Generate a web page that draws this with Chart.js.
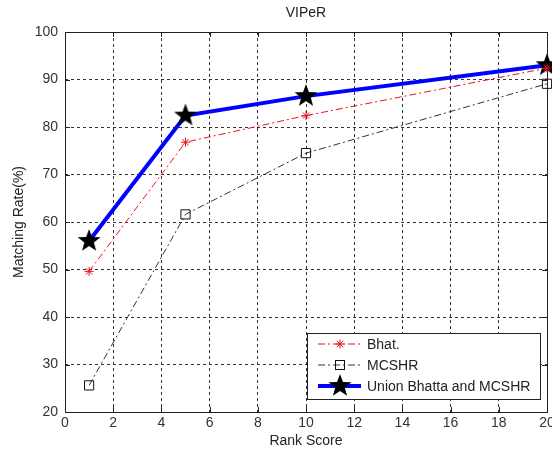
<!DOCTYPE html>
<html>
<head>
<meta charset="utf-8">
<script src="https://cdn.jsdelivr.net/npm/chart.js@4.4.1/dist/chart.umd.min.js"></script>
<style>
  html, body { margin: 0; padding: 0; background: #fff; }
  #wrap { width: 552px; height: 452px; position: relative; }
</style>
</head>
<body>
<div id="wrap"><canvas id="grafico" width="552" height="452"></canvas></div>
<script>
// ranks on the x axis
const ranks = [1, 5, 10, 20];

// matching rates (%)
const bhat = [49.6, 76.8, 82.4, 92.4];
const mcshr = [25.6, 61.6, 74.5, 89.1];
const union = [56.0, 82.4, 86.5, 93.0];

const xTicks = [0, 2, 4, 6, 8, 10, 12, 14, 16, 18, 20];
const yTicks = [20, 30, 40, 50, 60, 70, 80, 90, 100];

const FONT = "'Liberation Sans', Arial, sans-serif";
const FS = 14;

/* pentagram marker */
function estrela(r){
  const c = document.createElement("canvas");
  const s = Math.ceil(r*2+4);
  c.width = s; c.height = s;
  const g = c.getContext("2d");
  g.translate(s/2, s/2);
  g.beginPath();
  for(let i=0;i<10;i++){
    const rad = i%2===0 ? r : r*0.42;
    const a = -Math.PI/2 + i*Math.PI/5;
    const px = Math.cos(a)*rad, py = Math.sin(a)*rad;
    i===0 ? g.moveTo(px,py) : g.lineTo(px,py);
  }
  g.closePath();
  g.fillStyle = "#000";
  g.fill();
  return c;
}
const star = estrela(12);

function pontos(vals){
  return ranks.map((r,i)=>({x:r, y:vals[i]}));
}

/* =========================
   BOX, TITLE, LEGEND
========================= */
const extras = {
  id: "extras",
  beforeDatasetsDraw(chart){
    const {ctx, chartArea:a} = chart;
    ctx.save();
    ctx.strokeStyle = "#222";
    ctx.lineWidth = 1;
    ctx.setLineDash([]);
    ctx.strokeRect(a.left+0.5, a.top+0.5, a.right-a.left, a.bottom-a.top);
    // small inward ticks
    const xs = chart.scales.x, ys = chart.scales.y;
    ctx.beginPath();
    xTicks.forEach(t=>{
      const px = Math.round(xs.getPixelForValue(t))+0.5;
      ctx.moveTo(px, a.bottom); ctx.lineTo(px, a.bottom-5);
      ctx.moveTo(px, a.top); ctx.lineTo(px, a.top+5);
    });
    yTicks.forEach(t=>{
      const py = Math.round(ys.getPixelForValue(t))+0.5;
      ctx.moveTo(a.left, py); ctx.lineTo(a.left+5, py);
      ctx.moveTo(a.right, py); ctx.lineTo(a.right-5, py);
    });
    ctx.stroke();
    ctx.fillStyle = "#222";
    ctx.font = FS + "px " + FONT;
    ctx.textAlign = "center";
    ctx.textBaseline = "middle";
    ctx.fillText("VIPeR", (a.left+a.right)/2, 13);
    ctx.restore();
  },
  afterDraw(chart){
    const {ctx} = chart;
    const bx = 307, by = 333, bw = 233, bh = 66;
    ctx.save();
    ctx.fillStyle = "#fff";
    ctx.fillRect(bx, by, bw, bh);
    ctx.strokeStyle = "#222";
    ctx.lineWidth = 1;
    ctx.strokeRect(bx+0.5, by+0.5, bw, bh);
    const linhas = [
      {label:"Bhat.", color:"#e8141e", width:1, dash:[7,3,2,3], y:344, mark:"ast"},
      {label:"MCSHR", color:"#333", width:1, dash:[7,3,2,3], y:365, mark:"sq"},
      {label:"Union Bhatta and MCSHR", color:"#0000ff", width:4, dash:[], y:386, mark:"star"}
    ];
    linhas.forEach(l=>{
      ctx.beginPath();
      ctx.setLineDash(l.dash);
      ctx.strokeStyle = l.color;
      ctx.lineWidth = l.width;
      ctx.moveTo(318, l.y); ctx.lineTo(361, l.y);
      ctx.stroke();
      ctx.setLineDash([]);
      const mx = 340;
      if(l.mark==="ast"){
        ctx.lineWidth = 1;
        ctx.beginPath();
        const r = 4.5;
        for(let k=0;k<4;k++){
          const ang = k*Math.PI/4;
          ctx.moveTo(mx-Math.cos(ang)*r, l.y-Math.sin(ang)*r);
          ctx.lineTo(mx+Math.cos(ang)*r, l.y+Math.sin(ang)*r);
        }
        ctx.stroke();
      } else if(l.mark==="sq"){
        ctx.lineWidth = 1;
        ctx.strokeStyle = "#111";
        ctx.strokeRect(mx-4.5, l.y-4.5, 9, 9);
      } else {
        ctx.drawImage(star, mx-star.width/2, l.y-star.height/2);
      }
      ctx.fillStyle = "#222";
      ctx.font = FS + "px " + FONT;
      ctx.textAlign = "left";
      ctx.textBaseline = "middle";
      ctx.fillText(l.label, 367, l.y+1);
    });
    ctx.restore();
  }
};

function semPadding(scale){
  scale.paddingLeft = 0; scale.paddingRight = 0;
  scale.paddingTop = 0; scale.paddingBottom = 0;
}

new Chart(document.getElementById("grafico"),{
  type:"line",
  data:{
    datasets:[
      {
        label:"Bhat.",
        data:pontos(bhat),
        borderColor:"#e8141e",
        borderWidth:1,
        borderDash:[7,3,2,3],
        pointStyle:"star",
        pointRadius:4.5,
        pointBorderColor:"#e8141e",
        pointBorderWidth:1,
        tension:0,
        clip:false
      },
      {
        label:"MCSHR",
        data:pontos(mcshr),
        borderColor:"#333",
        borderWidth:1,
        borderDash:[7,3,2,3],
        pointStyle:"rect",
        pointRadius:6.5,
        pointBackgroundColor:"rgba(0,0,0,0)",
        pointBorderColor:"#111",
        pointBorderWidth:1,
        tension:0,
        clip:false
      },
      {
        label:"Union Bhatta and MCSHR",
        data:pontos(union),
        borderColor:"#0000ff",
        borderWidth:4,
        pointStyle:star,
        pointRadius:12,
        tension:0,
        clip:false
      }
    ]
  },
  options:{
    responsive:false,
    animation:false,
    events:[],
    layout:{autoPadding:false, padding:{top:32, right:5, left:0, bottom:0}},
    plugins:{
      legend:{display:false},
      tooltip:{enabled:false},
      title:{display:false}
    },
    scales:{
      x:{
        type:"linear",
        min:0, max:20,
        afterBuildTicks(s){ s.ticks = xTicks.map(v=>({value:v})); },
        afterFit(s){ s.height = 40; semPadding(s); },
        border:{display:false, dash:[3,3]},
        grid:{color:"#333", lineWidth:1, drawTicks:false},
        ticks:{color:"#333", padding:3, font:{family:FONT, size:FS}, maxRotation:0, autoSkip:false},
        title:{display:true, text:"Rank Score", color:"#222", font:{family:FONT, size:FS}, padding:{top:0, bottom:2}}
      },
      y:{
        type:"linear",
        min:20, max:100,
        afterBuildTicks(s){ s.ticks = yTicks.map(v=>({value:v})); },
        afterFit(s){ s.width = 65; semPadding(s); },
        border:{display:false, dash:[3,3]},
        grid:{color:"#333", lineWidth:1, drawTicks:false},
        ticks:{color:"#333", padding:7, font:{family:FONT, size:FS}, autoSkip:false},
        title:{display:true, text:"Matching Rate(%)", color:"#222", font:{family:FONT, size:FS}, padding:{top:10.5, bottom:0}}
      }
    }
  },
  plugins:[extras]
});
</script>
</body>
</html>
